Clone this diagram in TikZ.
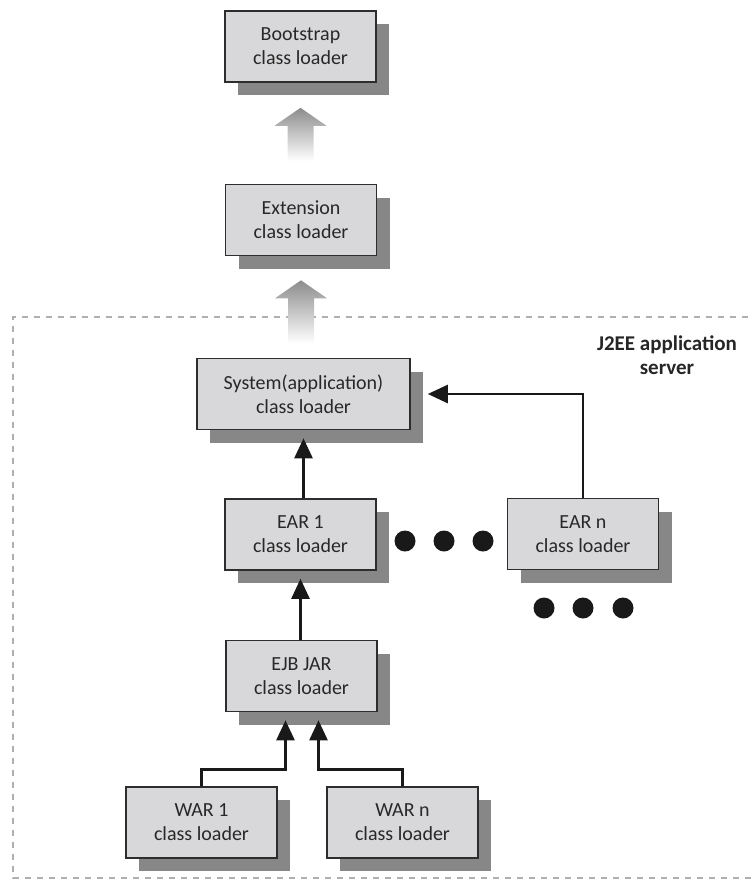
\documentclass[tikz,border=0pt]{standalone}
\usepackage{fontspec}
\setmainfont{Carlito}
\usetikzlibrary{calc,arrows.meta,shadows}
\definecolor{boxfill}{RGB}{216,216,218}
\definecolor{boxline}{RGB}{45,45,45}
\definecolor{txt}{RGB}{40,40,40}
\definecolor{dashc}{RGB}{175,175,175}
\tikzset{
  loader/.style={rectangle, draw=boxline, line width=1.6pt, fill=boxfill,
    minimum width=151pt, minimum height=71pt, align=center, inner sep=0pt,
    text=txt, font=\fontsize{20}{24}\selectfont,
    drop shadow={shadow xshift=13pt, shadow yshift=-13pt, fill=black!52, opacity=0.9}},
  blk/.style={draw=black!90, line width=2.6pt, -{Triangle[length=20pt,width=18pt]}},
  grayarrow/.style={top color=black!45, bottom color=white, draw=none},
  dotc/.style={circle, fill=black!90, minimum size=21pt, inner sep=0pt}
}
\begin{document}
\begin{tikzpicture}[x=1pt,y=-1pt]
\useasboundingbox (0,0) rectangle (754,881);
% dashed application server region
\draw[dashc, line width=2.2pt, dash pattern=on 6pt off 6pt] (760,317) -- (13,317) -- (13,878) -- (760,878);
\node[font=\bfseries\fontsize{21}{24}\selectfont, text=black!85, align=center] (j2ee) at (667,355) {J2EE application\\server};

\node[loader] (boot) at (300.5,46.5) {Bootstrap\\class loader};
\node[loader] (ext) at (301,220) {Extension\\class loader};
\node[loader, minimum width=213pt] (sys) at (303.5,394) {System(application)\\class loader};
\node[loader] (ear1) at (300.5,534.5) {EAR 1\\class loader};
\node[loader] (earn) at (583,534) {EAR n\\class loader};
\node[loader] (ejb) at (301.5,676) {EJB JAR\\class loader};
\node[loader] (war1) at (201.5,822.5) {WAR 1\\class loader};
\node[loader] (warn) at (402.5,822.5) {WAR n\\class loader};

% gray hollow arrows
\shade[grayarrow] ($(boot.south)+(0,25)$) -- ++(26,18) -- ++(-13,0) -- ++(0,35) -- ++(-26,0) -- ++(0,-35) -- ++(-13,0) -- cycle;
\shade[grayarrow] ($(ext.south)+(0,24)$) -- ++(26,18) -- ++(-13,0) -- ++(0,45) -- ++(-26,0) -- ++(0,-45) -- ++(-13,0) -- cycle;

% dots
\node[dotc] (d1) at (405,541) {};
\node[dotc] (d2) at (444,541) {};
\node[dotc] (d3) at (483,541) {};
\node[dotc] (d4) at (544,608) {};
\node[dotc] (d5) at (583,608) {};
\node[dotc] (d6) at (623,608) {};

% black arrows
\draw[blk, shorten >=17pt] (earn.north) |- (sys.east);
\draw[blk, shorten >=8pt] (ear1.north -| sys.south) -- (sys.south);
\draw[blk, shorten >=8pt] (ejb.north -| ear1.south) -- (ear1.south);
\coordinate (w1t) at ($(ejb.south)+(-16,0)$);
\coordinate (wnt) at ($(ejb.south)+(17,0)$);
\draw[blk, shorten >=8pt] (war1.north) |- ($(w1t)+(0,57)$) -- (w1t);
\draw[blk, shorten >=8pt] (warn.north) |- ($(wnt)+(0,57)$) -- (wnt);
\end{tikzpicture}
\end{document}
